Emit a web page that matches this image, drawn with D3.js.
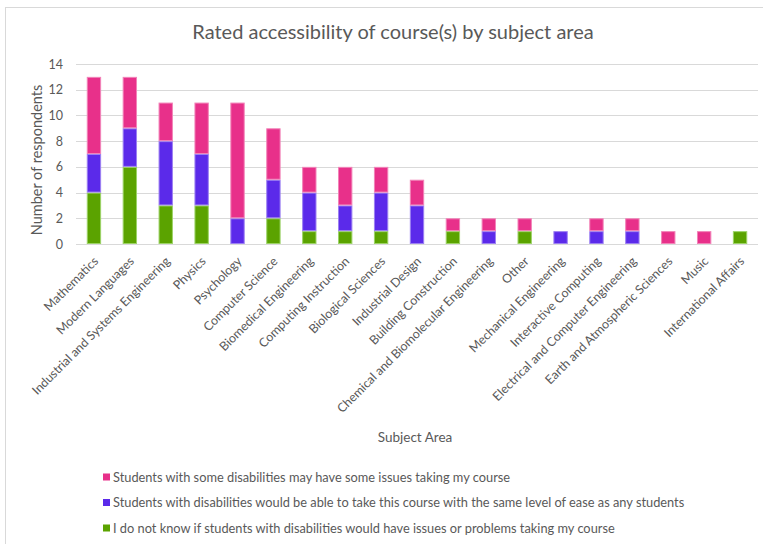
<!DOCTYPE html>
<html><head><meta charset="utf-8">
<script src="https://cdn.jsdelivr.net/npm/d3@7"></script>
<style>body{margin:0;background:#fff}svg{display:block}text{font-family:Lato,"Open Sans",sans-serif}</style>
</head><body><svg id="c" width="763" height="544"></svg>
<script>
const categories = ["Mathematics","Modern Languages","Industrial and Systems Engineering","Physics","Psychology","Computer Science","Biomedical Engineering","Computing Instruction","Biological Sciences","Industrial Design","Building Construction","Chemical and Biomolecular Engineering","Other","Mechanical Engineering","Interactive Computing","Electrical and Computer Engineering","Earth and Atmospheric Sciences","Music","International Affairs"];
const dontKnow =  [4,6,3,3,0,2,1,1,1,0,1,0,1,0,0,0,0,0,1];
const sameEase =  [3,3,5,4,2,3,3,2,3,3,0,1,0,1,1,1,0,0,0];
const someIssues = [6,4,3,4,9,4,2,3,2,2,1,1,1,0,1,1,1,1,0];
const seriesNames = ["I do not know if students with disabilities would have issues or problems taking my course","Students with disabilities would be able to take this course with the same level of ease as any students","Students with some disabilities may have some issues taking my course"];
const yTicks = [0,2,4,6,8,10,12,14];
const colors = ["#5BA300","#5B2AEA","#E8308A"];
const strokes = ["#9CD366","#9C80F2","#F283B8"];

const svg = d3.select("#c");
const M = {left:76, right:758, top:64, bottom:244};
const keys = ["k0","k1","k2"];
const table = categories.map((c,i)=>({cat:c,k0:dontKnow[i],k1:sameEase[i],k2:someIssues[i]}));
const stacked = d3.stack().keys(keys)(table);

const x = d3.scaleBand().domain(categories).range([M.left,M.right]).paddingInner(0.6).paddingOuter(0.3);
const y = d3.scaleLinear().domain([0,14]).range([M.bottom,M.top]);

// border
svg.append("rect").attr("x",5.5).attr("y",7.5).attr("width",900).attr("height",700)
  .attr("fill","none").attr("stroke","#D9D9D9");

// title
svg.append("text").attr("x",393).attr("y",39).attr("text-anchor","middle")
  .attr("font-size",20).attr("fill","#595959").text("Rated accessibility of course(s) by subject area");

// grid
svg.append("g").selectAll("line").data(yTicks).join("line")
  .attr("x1",M.left).attr("x2",M.right)
  .attr("y1",d=>Math.round(y(d))+0.5).attr("y2",d=>Math.round(y(d))+0.5)
  .attr("stroke","#D9D9D9").attr("stroke-width",1);

// y labels
const yAxis = d3.axisLeft(y).tickValues(yTicks).tickSize(0).tickPadding(0);
const ga = svg.append("g").attr("transform",`translate(63,0)`).call(yAxis);
ga.select(".domain").remove();
ga.selectAll("text").attr("font-size",12.5).attr("fill","#595959").attr("font-family","Lato,'Open Sans',sans-serif");

// bars
svg.append("g").selectAll("g").data(stacked).join("g")
  .attr("fill",(d,i)=>colors[i]).attr("stroke",(d,i)=>strokes[i])
  .selectAll("rect").data(d=>d.filter(v=>v[1]-v[0]>0)).join("rect")
  .attr("x",d=>x(d.data.cat)+0.5).attr("width",x.bandwidth()-1)
  .attr("y",d=>y(d[1])+0.5).attr("height",d=>y(d[0])-y(d[1])-1)
  .attr("stroke-width",1);

// x labels
const xAxis = d3.axisBottom(x).tickSize(0).tickPadding(0);
const gx = svg.append("g").attr("transform",`translate(0,${M.bottom})`).call(xAxis);
gx.select(".domain").remove();
gx.selectAll("text").attr("font-size",12.4).attr("fill","#595959").attr("font-family","Lato,'Open Sans',sans-serif")
  .attr("text-anchor","end").attr("dy",null).attr("y",0)
  .attr("transform","translate(5,18) rotate(-45)");

// axis titles
svg.append("text").attr("transform","translate(42,160) rotate(-90)").attr("text-anchor","middle")
  .attr("font-size",14.5).attr("fill","#595959").text("Number of respondents");
svg.append("text").attr("x",415).attr("y",442).attr("text-anchor","middle")
  .attr("font-size",13.5).attr("fill","#595959").text("Subject Area");

// legend
const legendOrder = [2,1,0];
const lg = svg.append("g").selectAll("g").data(legendOrder).join("g")
  .attr("transform",(d,i)=>`translate(103,${477+i*25.5})`);
lg.append("rect").attr("x",0).attr("y",-3.5).attr("width",7).attr("height",7).attr("fill",d=>colors[d]);
lg.append("text").attr("x",10).attr("y",4.5).attr("font-size",12.8).attr("fill","#595959").text(d=>seriesNames[d]);
</script></body></html>
